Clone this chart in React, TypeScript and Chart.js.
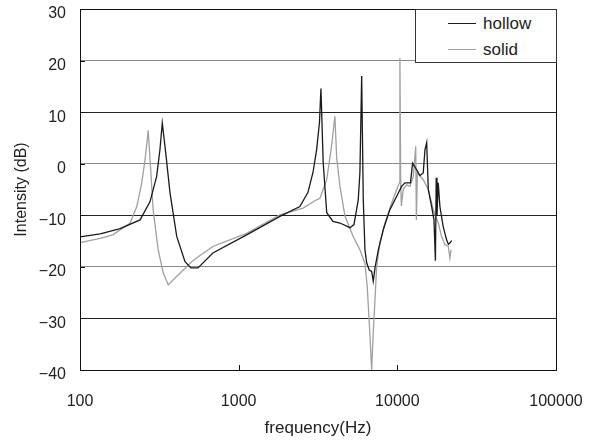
import React, { useEffect, useRef } from "react";
import { Chart, registerables } from "chart.js";

Chart.register(...registerables);

const xTickValues = [100, 1000, 10000, 100000];
const yTickValues = [30, 20, 10, 0, -10, -20, -30, -40];

const hollowFreq = [100, 134, 179, 239, 276, 304, 319, 330, 347, 369, 407, 459, 500, 554, 688, 1122, 1820, 2430, 2730, 2940, 3100, 3230, 3300, 3410, 3590, 3930, 4350, 5030, 5330, 5670, 5810, 5960, 6100, 6250, 6410, 6650, 6890, 7050, 7230, 7590, 8150, 8980, 9910, 10640, 11170, 12100, 12480, 13240, 13880, 14560, 14930, 15310, 15670, 16450, 17020, 17380, 17580, 17780, 18110, 18550, 19450, 20460, 20990, 21440, 21980];
const hollowDb = [-14.2, -13.6, -12.6, -10.9, -7.4, -2.5, 2.7, 7.9, 2.1, -5.6, -14.1, -19, -20.2, -20.2, -17.3, -13.8, -10.2, -8.3, -5.6, -1.7, 2.7, 8, 14.6, 0.2, -9.5, -11.2, -11.5, -12.4, -11.8, -7, -1.7, 17, -7, -16.7, -19.2, -20.6, -20.9, -22.8, -20.2, -16.7, -12.8, -8.9, -6.3, -4.4, -3.7, -3.7, 0.1, -1.2, -2.3, -1.8, 2.7, 4.1, -5, -8.3, -10.9, -18.8, -2.7, -10, -3.7, -8.3, -12.2, -14.8, -15.6, -15.4, -14.9];

const solidFreq = [100, 134, 161, 207, 228, 245, 257, 264, 269, 279, 289, 311, 335, 360, 387, 448, 506, 570, 692, 1122, 1820, 2550, 3100, 3250, 3590, 3850, 4040, 4150, 4350, 4680, 5270, 5810, 6250, 6460, 6710, 6890, 7050, 7230, 7410, 7760, 8360, 9210, 9910, 10310, 10380, 10500, 10600, 10890, 11450, 12000, 12600, 13060, 13180, 13370, 14560, 15670, 16830, 18110, 19010, 19950, 20940, 21440, 21780];
const solidDb = [-15.3, -14.5, -13.8, -11.5, -8.3, -3.7, 0.8, 4, 6.5, -1.2, -8.9, -16.7, -21.2, -23.5, -22.5, -20.6, -19, -17.8, -16, -13.5, -9.9, -8.6, -7, -6.7, -3.1, 3.4, 9.2, 1, -4.4, -10.2, -14.1, -16.7, -19.3, -23.8, -32.8, -40, -32.8, -26.4, -19.9, -15.4, -11.5, -7.6, -5, -3.7, 20.5, -3.5, -8.2, -5, -4.1, -4.4, -2.5, 3.4, -10.9, -1.8, -3.1, -5, -8.9, -11.5, -14.1, -15.7, -16, -18.3, -16.7];

const seriesNames = ["hollow", "solid"];
const seriesColors = ["#1a1a1a", "#a0a0a0"];

const FONT = "'Liberation Sans', Arial, sans-serif";

const framePlugin = {
  id: "frame",
  afterDraw(chart: any) {
    const { ctx, chartArea } = chart;
    const xs = chart.scales.x;
    const ys = chart.scales.y;
    ctx.save();
    ctx.strokeStyle = "#111";
    ctx.lineWidth = 1;
    ctx.beginPath();
    ctx.rect(Math.round(chartArea.left) + 0.5, Math.round(chartArea.top) + 0.5, Math.round(chartArea.right - chartArea.left), Math.round(chartArea.bottom - chartArea.top));
    ctx.stroke();
    ctx.beginPath();
    for (const v of xTickValues) {
      const px = Math.round(xs.getPixelForValue(v)) + 0.5;
      ctx.moveTo(px, chartArea.bottom);
      ctx.lineTo(px, chartArea.bottom - 5);
    }
    for (const v of yTickValues) {
      const py = Math.round(ys.getPixelForValue(v)) + 0.5;
      ctx.moveTo(chartArea.left, py);
      ctx.lineTo(chartArea.left + 5, py);
    }
    ctx.stroke();
    ctx.restore();
  },
};

export default function App() {
  const ref = useRef<HTMLCanvasElement>(null);
  useEffect(() => {
    document.body.style.margin = "0";
    const ctx = ref.current!;
    const chart = new Chart(ctx, {
      type: "line",
      data: {
        datasets: [
          {
            label: seriesNames[0],
            data: hollowFreq.map((f, i) => ({ x: f, y: hollowDb[i] })),
            borderColor: seriesColors[0],
            borderWidth: 1.3,
            pointRadius: 0,
            tension: 0,
            fill: false,
          },
          {
            label: seriesNames[1],
            data: solidFreq.map((f, i) => ({ x: f, y: solidDb[i] })),
            borderColor: seriesColors[1],
            borderWidth: 1.3,
            pointRadius: 0,
            tension: 0,
            fill: false,
          },
        ],
      },
      options: {
        responsive: false,
        animation: false,
        devicePixelRatio: 1,
        layout: { padding: { left: 0, top: 9, right: 35, bottom: 0 } },
        plugins: { legend: { display: false }, tooltip: { enabled: false } },
        scales: {
          x: {
            type: "logarithmic",
            min: 100,
            max: 100000,
            afterBuildTicks: (s: any) => {
              s.ticks = xTickValues.map((v) => ({ value: v }));
            },
            afterFit: (s: any) => {
              s.height = 70;
              s.paddingLeft = 0;
              s.paddingRight = 0;
            },
            grid: { display: false, drawTicks: false },
            border: { display: true, color: "#111" },
            ticks: {
              color: "#222",
              font: { family: FONT, size: 16 },
              padding: 22,
              maxRotation: 0,
              autoSkip: false,
              callback: (v: any) => String(v),
            },
            title: {
              display: true,
              text: "frequency(Hz)",
              color: "#222",
              font: { family: FONT, size: 17 },
              padding: { top: 0, bottom: 1 },
            },
          },
          y: {
            type: "linear",
            min: -40,
            max: 30,
            afterBuildTicks: (s: any) => {
              s.ticks = yTickValues.map((v) => ({ value: v }));
            },
            afterFit: (s: any) => {
              s.width = 80;
              s.paddingTop = 0;
              s.paddingBottom = 0;
            },
            grid: {
              drawTicks: false,
              color: (c: any) => {
                const v = c.tick ? c.tick.value : 0;
                return Math.abs(v / 10) % 2 === 1 ? "#222" : "#8a8a8a";
              },
              lineWidth: 1,
            },
            border: { display: true, color: "#111" },
            ticks: {
              color: "#222",
              font: { family: FONT, size: 16 },
              padding: 14,
              labelOffset: 5,
              autoSkip: false,
              callback: (v: any) => (v < 0 ? "\u2212" + String(Math.abs(v)) : String(v)),
            },
            title: {
              display: true,
              text: "Intensity (dB)",
              color: "#222",
              font: { family: FONT, size: 16 },
              padding: { top: 12, bottom: 0 },
            },
          },
        },
      },
      plugins: [framePlugin],
    });
    return () => chart.destroy();
  }, []);

  const legendRow = (i: number, top: number) => (
    <div style={{ position: "absolute", left: 0, top, width: 140, height: 20 }}>
      <div style={{ position: "absolute", left: 32, top: 9, width: 28, borderTop: `1px solid ${seriesColors[i]}` }} />
      <span style={{ position: "absolute", left: 67, top: 0, fontFamily: FONT, fontSize: 17, lineHeight: "20px", color: "#222" }}>
        {seriesNames[i]}
      </span>
    </div>
  );

  return (
    <div style={{ position: "absolute", left: 0, top: 0, width: 591, height: 440, background: "#fff" }}>
      <canvas ref={ref} width={591} height={440} style={{ display: "block" }} />
      <div
        style={{
          position: "absolute",
          left: 415,
          top: 9,
          width: 140,
          height: 52,
          border: "1px solid #333",
          background: "#fff",
        }}
      >
        {legendRow(0, 4)}
        {legendRow(1, 30)}
      </div>
    </div>
  );
}
